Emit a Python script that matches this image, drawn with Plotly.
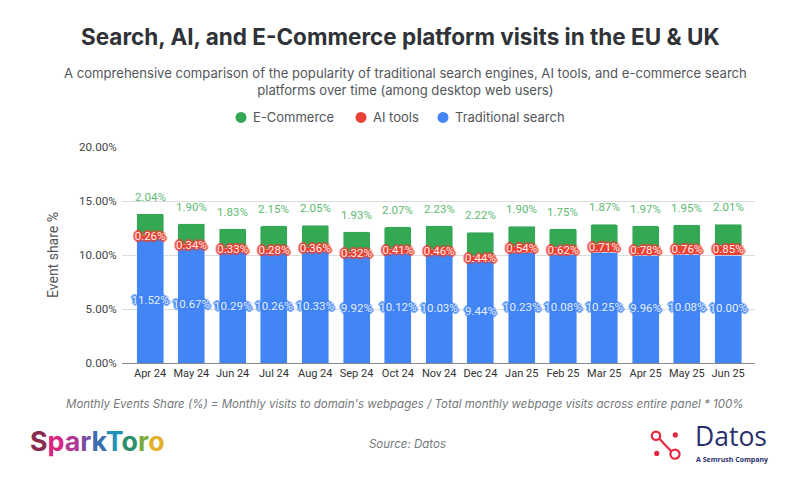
"""Search, AI and e-commerce visit share, stacked bars."""

import plotly.graph_objects as go

months = [
    "Apr 24", "May 24", "Jun 24", "Jul 24", "Aug 24", "Sep 24", "Oct 24", "Nov 24",
    "Dec 24", "Jan 25", "Feb 25", "Mar 25", "Apr 25", "May 25", "Jun 25",
]
search = [11.52, 10.67, 10.29, 10.26, 10.33, 9.92, 10.12, 10.03, 9.44, 10.23, 10.08, 10.25, 9.96, 10.08, 10.00]
ai_tools = [0.26, 0.34, 0.33, 0.28, 0.36, 0.32, 0.41, 0.46, 0.44, 0.54, 0.62, 0.71, 0.78, 0.76, 0.85]
ecommerce = [2.04, 1.90, 1.83, 2.15, 2.05, 1.93, 2.07, 2.23, 2.22, 1.90, 1.75, 1.87, 1.97, 1.95, 2.01]
y_ticks = [0, 5, 10, 15, 20]

BLUE = "#4285F4"
RED = "#EA4335"
GREEN = "#34A853"
LOGO_RED = "#e5283f"
LOGO_NAVY = "#2a2f6e"
W, H = 800, 479


def px_x(x):
    return (x - 122) / 633


def px_y(y):
    return (363.5 - y) / 216.8


def halo(color):
    """Text shadow that reads as an outline around a data label."""
    offsets = [(-1, -1), (1, -1), (-1, 1), (1, 1), (0, -2), (0, 2), (-2, 0), (2, 0)]
    return ", ".join(f"{x}px {y}px 1px {color}" for x, y in offsets)


def bar_trace(name, values, color):
    return go.Bar(x=months, y=values, name=name, width=0.655, marker={"color": color, "cornerradius": 1.5})


def label_trace(y_values, values, label_color, label_halo):
    """Text-only trace, so labels sit over the neighbouring bar segments."""
    return go.Scatter(
        x=months,
        y=y_values,
        mode="text",
        text=[f"{v:.2f}%" for v in values],
        textposition="middle center",
        cliponaxis=False,
        showlegend=False,
        textfont={"family": "Roboto", "size": 11.5, "color": label_color, "shadow": halo(label_halo)},
    )


fig = go.Figure()
fig.add_trace(bar_trace("Traditional search", search, BLUE))
fig.add_trace(bar_trace("AI tools", ai_tools, RED))
fig.add_trace(bar_trace("E-Commerce", ecommerce, GREEN))
fig.add_trace(label_trace([s / 2 for s in search], search, "#e3edfe", BLUE))
fig.add_trace(label_trace([s + a / 2 for s, a in zip(search, ai_tools)], ai_tools, "#fdeceb", RED))

# e-commerce labels float above the stack
totals = [s + a + e for s, a, e in zip(search, ai_tools, ecommerce)]
for month, total, value in zip(months, totals, ecommerce):
    fig.add_annotation(
        x=month, y=total, yshift=17, text=f"{value:.2f}%", showarrow=False, yanchor="middle",
        font={"family": "Roboto", "size": 11.5, "color": "#5dbb72"},
    )


def paper_text(x, y, text, size, color, family="Inter", xanchor="center"):
    """Place text by pixel position on the 800x479 page."""
    fig.add_annotation(
        xref="paper", yref="paper", x=px_x(x), y=px_y(y), text=text,
        showarrow=False, xanchor=xanchor, yanchor="middle", align="center",
        font={"family": family, "size": size, "color": color},
    )


paper_text(400, 36, "<b>Search, AI, and E-Commerce platform visits in the EU &amp; UK</b>", 22.5, "#2f3237")
paper_text(
    405, 81,
    "A comprehensive comparison of the popularity of traditional search engines, AI tools, and e-commerce search<br>"
    "platforms over time (among desktop web users)",
    13.1, "#53565b",
)
paper_text(
    405, 405,
    "<i>Monthly Events Share (%) = Monthly visits to domain's webpages / Total monthly webpage visits across entire panel * 100%</i>",
    11.5, "#75787c",
)
paper_text(407, 445, "<i>Source: Datos</i>", 11.5, "#75787c")

# legend drawn by hand to get the wide spacing
for cx, label, color in [(241, "E-Commerce", GREEN), (361, "AI tools", RED), (443, "Traditional search", BLUE)]:
    fig.add_shape(
        type="circle", xref="paper", yref="paper", line={"width": 0}, fillcolor=color,
        x0=px_x(cx - 5.5), x1=px_x(cx + 5.5), y0=px_y(117 + 5.5), y1=px_y(117 - 5.5),
    )
    paper_text(cx + 10, 117, label, 13, "#53565b", xanchor="left")

# SparkToro wordmark
spark_letters = [
    ("S", "#8a2c4f"), ("p", "#d6247f"), ("a", "#b23a96"), ("r", "#7a4aa0"), ("k", "#3b6fb0"),
    ("T", "#1f93b8"), ("o", "#2b8f6b"), ("r", "#7aa83a"), ("o", "#e3b02a"),
]
wordmark = "".join(f'<span style="color:{c}">{ch}</span>' for ch, c in spark_letters)
paper_text(28, 442, f"<b>{wordmark}</b>", 26.8, "#444444", xanchor="left")

# Datos logo
fig.add_shape(
    type="line", xref="paper", yref="paper", x0=px_x(657), y0=px_y(437), x1=px_x(674), y1=px_y(455),
    line={"color": LOGO_RED, "width": 2.2},
)
for cx, cy, r, hollow in [(656, 436.5, 4.2, True), (675, 455, 4.6, True), (675.3, 435.7, 2.6, False), (656.7, 454.3, 2.6, False)]:
    fig.add_shape(
        type="circle", xref="paper", yref="paper", x0=px_x(cx - r), x1=px_x(cx + r), y0=px_y(cy + r), y1=px_y(cy - r),
        line={"color": LOGO_RED, "width": 2.2 if hollow else 0},
        fillcolor="white" if hollow else LOGO_RED,
    )
paper_text(693, 437, "Datos", 26.5, LOGO_NAVY, family="Open Sans", xanchor="left")
paper_text(694, 460, "<b>A Semrush Company</b>", 7, LOGO_NAVY, family="Open Sans", xanchor="left")

fig.update_layout(
    barmode="stack",
    width=W,
    height=H,
    margin={"l": 122, "r": W - 755, "t": 146.7, "b": H - 363.5, "pad": 0},
    paper_bgcolor="white",
    plot_bgcolor="white",
    showlegend=False,
    font={"family": "Roboto", "color": "#444444"},
    xaxis={
        "range": [-0.68, 14.65],
        "tickfont": {"size": 11, "color": "#333333"},
        "showgrid": False,
        "showline": True,
        "linecolor": "#8a8a8a",
        "linewidth": 1.2,
        "ticks": "",
        "tickangle": 0,
    },
    yaxis={
        "range": [0, 20],
        "tickvals": y_ticks,
        "ticktext": [f"{v:.2f}%" for v in y_ticks],
        "tickfont": {"size": 11.6, "color": "#444444"},
        "gridcolor": "#dcdcdc",
        "gridwidth": 1.2,
        "zeroline": False,
        "ticklen": 2,
        "ticks": "outside",
        "tickcolor": "rgba(0,0,0,0)",
        "title": {"text": "Event share %", "font": {"size": 14, "color": "#555555"}, "standoff": 17},
    },
)

# the page's default body margin would push the figure 8px in
fig.write_html(
    "out.html",
    config={"displayModeBar": False},
    post_script="document.body.style.margin='0';document.body.style.overflow='hidden';",
)
